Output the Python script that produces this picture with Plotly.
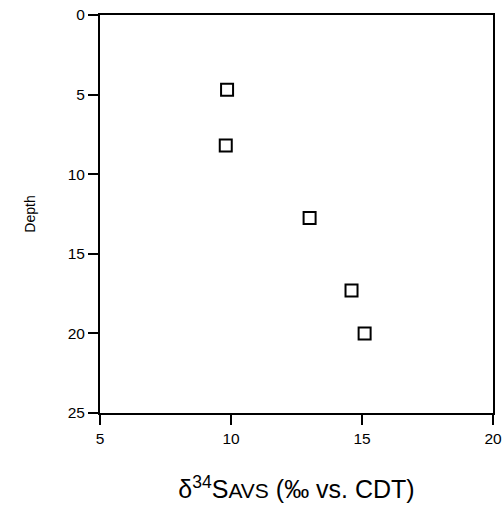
import plotly.graph_objects as go

d34s_avs = [9.85, 9.8, 13.0, 14.6, 15.1]
depth = [4.7, 8.2, 12.75, 17.3, 20.0]
x_ticks = [5, 10, 15, 20]
y_ticks = [0, 5, 10, 15, 20, 25]

fig = go.Figure()
fig.add_trace(go.Scatter(
    x=d34s_avs, y=depth, mode="markers",
    marker=dict(symbol="square-open", size=12, color="black", line=dict(width=2, color="black")),
    showlegend=False,
))

fig.update_layout(
    width=504, height=510,
    margin=dict(l=100, r=11, t=15, b=97, autoexpand=False),
    paper_bgcolor="white", plot_bgcolor="white",
    font=dict(family="Liberation Sans, Arial, sans-serif", color="black", size=15),
    xaxis=dict(
        range=[5, 20], tickvals=x_ticks, ticktext=[str(v) for v in x_ticks],
        automargin=False, ticklabeloverflow="allow",
        showgrid=False, zeroline=False, showline=True, linecolor="black", linewidth=2,
        mirror=True, ticks="outside", ticklen=10, tickwidth=2, tickcolor="black",
        tickfont=dict(size=15.5),
        title=dict(text="δ<sup>34</sup>S<span style='font-size:21px'>AVS</span> (‰ vs. CDT)",
                   font=dict(size=25), standoff=35),
    ),
    yaxis=dict(
        range=[25, 0], tickvals=y_ticks, ticktext=[str(v) for v in y_ticks],
        automargin=False, ticklabeloverflow="allow",
        showgrid=False, zeroline=False, showline=True, linecolor="black", linewidth=2,
        mirror=True, ticks="outside", ticklen=10, tickwidth=2, tickcolor="black",
        tickfont=dict(size=15.5),
        title=dict(text="Depth", font=dict(size=14), standoff=29),
    ),
)

fig.write_html("out.html", config={"displayModeBar": False},
               post_script="document.body.style.margin='0';document.body.style.padding='0';")
